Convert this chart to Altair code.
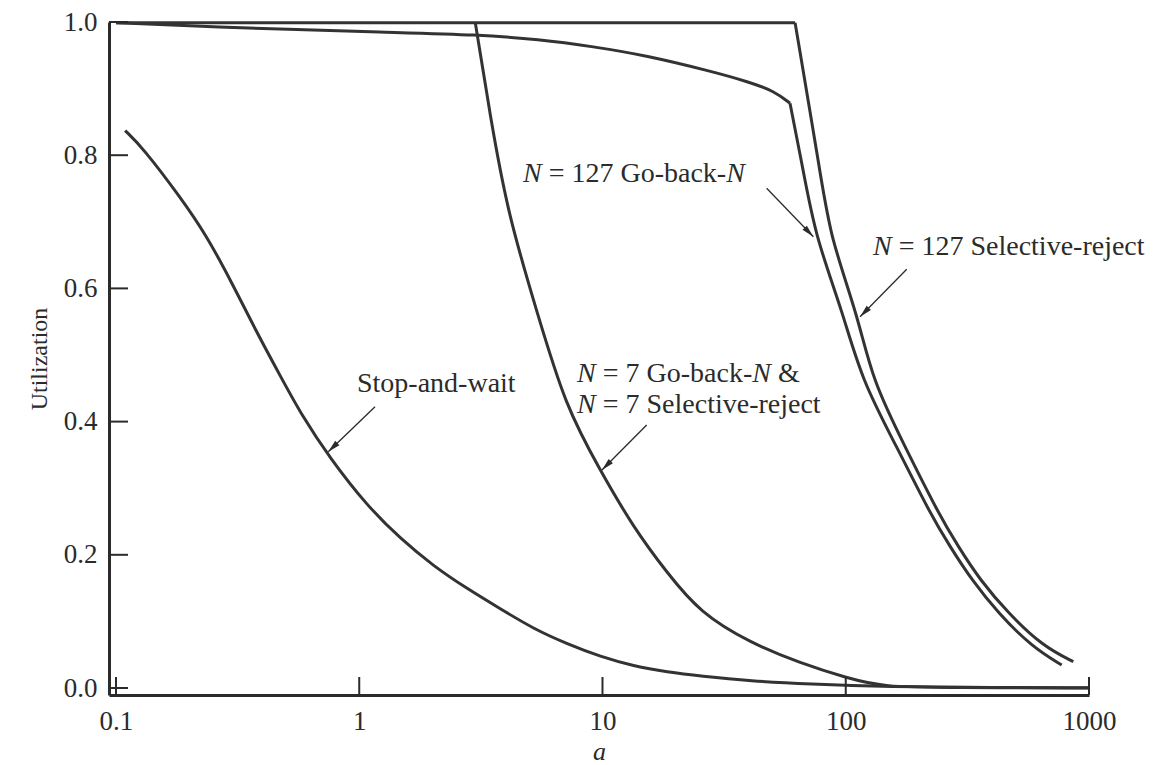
import math
import altair as alt
import pandas as pd

# ---------------- values ----------------
# Stop-and-wait
sw_a = [0.109, 0.129, 0.183, 0.236, 0.299, 0.379, 0.473, 0.581, 0.758, 1.08, 1.48, 2.02,
        2.78, 3.80, 5.20, 7.18, 9.82, 13.4, 18.5, 25.3, 40.6, 70.0, 150.0, 400.0, 1000.0]
sw_u = [0.837, 0.811, 0.738, 0.679, 0.609, 0.534, 0.469, 0.409, 0.345, 0.273, 0.224, 0.183,
        0.149, 0.119, 0.089, 0.066, 0.047, 0.033, 0.024, 0.018, 0.0105, 0.006, 0.002, 0.0006, 0.0002]

# N = 7 Go-back-N & N = 7 Selective-reject
n7_a = [3.0, 3.45, 4.09, 5.43, 7.01, 9.77, 13.35, 18.42, 25.17, 40.41, 64.86, 101.2, 142.3, 270.0, 1000.0]
n7_u = [0.999, 0.860, 0.710, 0.560, 0.425, 0.327, 0.242, 0.173, 0.113, 0.068, 0.0375, 0.015, 0.0015, 0.0005, 0.0]

# N = 127 Go-back-N (slow decline, then drop)
gbn_slow_a = [0.1, 0.221, 1.47, 3.0, 5.5, 9.2, 15.0, 28.0, 40.0, 51.0, 59.0]
gbn_slow_u = [0.999, 0.993, 0.984, 0.981, 0.974, 0.963, 0.950, 0.926, 0.910, 0.896, 0.878]
gbn_drop_a = [59.0, 68.0, 75.5, 97.4, 116.3, 162.0, 222.0, 268.3, 329.5, 423.9, 581.4, 772.2]
gbn_drop_u = [0.878, 0.763, 0.676, 0.563, 0.4625, 0.3623, 0.2623, 0.2122, 0.1622, 0.1122, 0.0622, 0.0345]

# N = 127 Selective-reject (flat, then drop)
sr_flat_a = [0.1, 61.9]
sr_flat_u = [0.999, 0.999]
sr_drop_a = [61.9, 79.5, 86.5, 112.5, 128.5, 175.2, 240.2, 290.2, 356.3, 465.9, 648.7, 861.9]
sr_drop_u = [0.999, 0.763, 0.677, 0.557, 0.4625, 0.3623, 0.2623, 0.2122, 0.1622, 0.1122, 0.0622, 0.0397]

x_tick_values = [0.1, 1, 10, 100, 1000]
y_tick_values = [0.0, 0.2, 0.4, 0.6, 0.8, 1.0]

# annotations: pieces (text, italic?) and left-baseline anchor in data units
ann_parts = [
    [("N", True), (" = 127 Go-back-", False), ("N", True)],
    [("N", True), (" = 127 Selective-reject", False)],
    [("Stop-and-wait", False)],
    [("N", True), (" = 7 Go-back-", False), ("N", True), (" &", False)],
    [("N", True), (" = 7 Selective-reject", False)],
]
ann_a = [4.71, 129.4, 0.979, 7.86, 7.86]
ann_u = [0.760, 0.650, 0.444, 0.4595, 0.413]

# arrows (from -> to), data units
arrow_from_a = [1.161, 15.19, 47.3, 178.1]
arrow_from_u = [0.4224, 0.3949, 0.7503, 0.6287]
arrow_to_a = [0.746, 9.95, 73.6, 114.5]
arrow_to_u = [0.3548, 0.3273, 0.6776, 0.5575]

# ---------------- layout ----------------
W, H = 980, 673
X_DOM = [0.0936, 1000]
Y_DOM = [-0.0105, 1.0]
FONT = "Liberation Serif"
INK = "#2b2b2b"
LINE = "#333333"
FS_TICK = 27
FS_ANN = 28

LOG_SPAN = math.log10(X_DOM[1]) - math.log10(X_DOM[0])
DECADE = W / LOG_SPAN


def px(a):
    return W * (math.log10(a) - math.log10(X_DOM[0])) / LOG_SPAN


def py(u):
    return H * (Y_DOM[1] - u) / (Y_DOM[1] - Y_DOM[0])


# Times metrics (Liberation Serif is metric compatible)
ROMAN = {' ': 0.25, '=': 0.564, '1': 0.5, '2': 0.5, '7': 0.5, 'G': 0.722, 'o': 0.5, '-': 0.333,
         'b': 0.5, 'a': 0.444, 'c': 0.444, 'k': 0.5, 'S': 0.556, 'e': 0.444, 'l': 0.278,
         't': 0.278, 'i': 0.278, 'v': 0.5, 'r': 0.333, 'j': 0.278, '&': 0.778, 'n': 0.5,
         'd': 0.5, 'p': 0.5, 'w': 0.722}
ITALIC = {'N': 0.667}


def text_width(s, italic):
    table = ITALIC if italic else ROMAN
    return sum(table.get(ch, 0.5) for ch in s) * FS_ANN


rows = []
for parts, a0, u0 in zip(ann_parts, ann_a, ann_u):
    off = 0.0
    for txt, it in parts:
        lead = len(txt) - len(txt.lstrip(" "))
        off_here = off + lead * ROMAN[' '] * FS_ANN
        rows.append({"a": a0 * 10 ** (off_here / DECADE), "u": u0, "t": txt.strip(), "italic": it})
        off += text_width(txt, it)
ann_df = pd.DataFrame(rows)

line_rows = []
for name, xs_, ys_ in [("sw", sw_a, sw_u), ("n7", n7_a, n7_u), ("gbn1", gbn_slow_a, gbn_slow_u),
                       ("gbn2", gbn_drop_a, gbn_drop_u), ("sr1", sr_flat_a, sr_flat_u),
                       ("sr2", sr_drop_a, sr_drop_u)]:
    for a, u in zip(xs_, ys_):
        line_rows.append({"seg": name, "a": a, "u": u})
lines_df = pd.DataFrame(line_rows)

arrow_df = pd.DataFrame({"a": arrow_from_a, "u": arrow_from_u, "a2": arrow_to_a, "u2": arrow_to_u})
arrow_df["ang"] = [
    (math.degrees(math.atan2(px(a2) - px(a1), -(py(u2) - py(u1)))) + 360) % 360
    for a1, u1, a2, u2 in zip(arrow_from_a, arrow_from_u, arrow_to_a, arrow_to_u)
]

xs = alt.Scale(type="log", domain=X_DOM, nice=False)
ys = alt.Scale(domain=Y_DOM, nice=False, zero=False)

x_axis = alt.Axis(values=x_tick_values, format="~g", title="a", titleFont=FONT, titleFontSize=26,
                  titleFontStyle="italic", titleFontWeight="normal", titleColor=INK,
                  titleY=64, titleBaseline="alphabetic",
                  labelFont=FONT, labelFontSize=FS_TICK, labelColor=INK, labelPadding=13,
                  labelFlush=False, labelOverlap=False, ticks=False, grid=False,
                  domainColor=INK, domainWidth=3)
y_axis = alt.Axis(values=y_tick_values, format=".1f", title="Utilization", titleFont=FONT,
                  titleFontSize=24, titleFontWeight="normal", titleColor=INK,
                  titleX=-63, titleY=H / 2, titleAngle=270, titleBaseline="alphabetic",
                  titleAlign="center",
                  labelFont=FONT, labelFontSize=FS_TICK, labelColor=INK, labelPadding=12,
                  labelFlush=False, labelOverlap=False, ticks=False, grid=False,
                  domainColor=INK, domainWidth=3)


def X(field):
    return alt.X(field, scale=xs, axis=x_axis)


def Y(field):
    return alt.Y(field, scale=ys, axis=y_axis)


curves = alt.Chart(lines_df).mark_line(interpolate="basis", strokeWidth=3, color=LINE).encode(
    x=X("a:Q"), y=Y("u:Q"), detail="seg:N",
)

xticks = alt.Chart(pd.DataFrame({"a": x_tick_values})).mark_rule(color=INK, strokeWidth=2).encode(
    x=X("a:Q"), y=alt.value(H), y2=alt.value(H - 18),
)
yticks = alt.Chart(pd.DataFrame({"u": y_tick_values})).mark_rule(color=INK, strokeWidth=2).encode(
    y=Y("u:Q"), x=alt.value(0), x2=alt.value(19),
)

arrow_lines = alt.Chart(arrow_df).mark_rule(color=INK, strokeWidth=1.3).encode(
    x=X("a:Q"), x2="a2:Q", y=Y("u:Q"), y2="u2:Q",
)
arrow_heads = alt.Chart(arrow_df).mark_point(
    shape="M0,0L-0.3,1.25L0.3,1.25Z", filled=True, size=400, color=INK, opacity=1, strokeWidth=0
).encode(
    x=X("a2:Q"), y=Y("u2:Q"), angle=alt.Angle("ang:Q", scale=None),
)

txt_common = dict(align="left", baseline="alphabetic", font=FONT, fontSize=FS_ANN, color=INK)
text_roman = alt.Chart(ann_df).transform_filter("!datum.italic").mark_text(**txt_common).encode(
    x=X("a:Q"), y=Y("u:Q"), text="t:N")
text_italic = alt.Chart(ann_df).transform_filter("datum.italic").mark_text(
    fontStyle="italic", **txt_common).encode(
    x=X("a:Q"), y=Y("u:Q"), text="t:N")

chart = alt.layer(curves, xticks, yticks, arrow_lines, arrow_heads, text_roman, text_italic).properties(
    width=W, height=H,
    padding={"left": 101, "top": 14, "right": 62, "bottom": 70},
    autosize=alt.AutoSizeParams(type="none"),
    background="white",
).configure_view(stroke=None)

chart.save("out.html", embed_options={"renderer": "svg", "actions": False})
